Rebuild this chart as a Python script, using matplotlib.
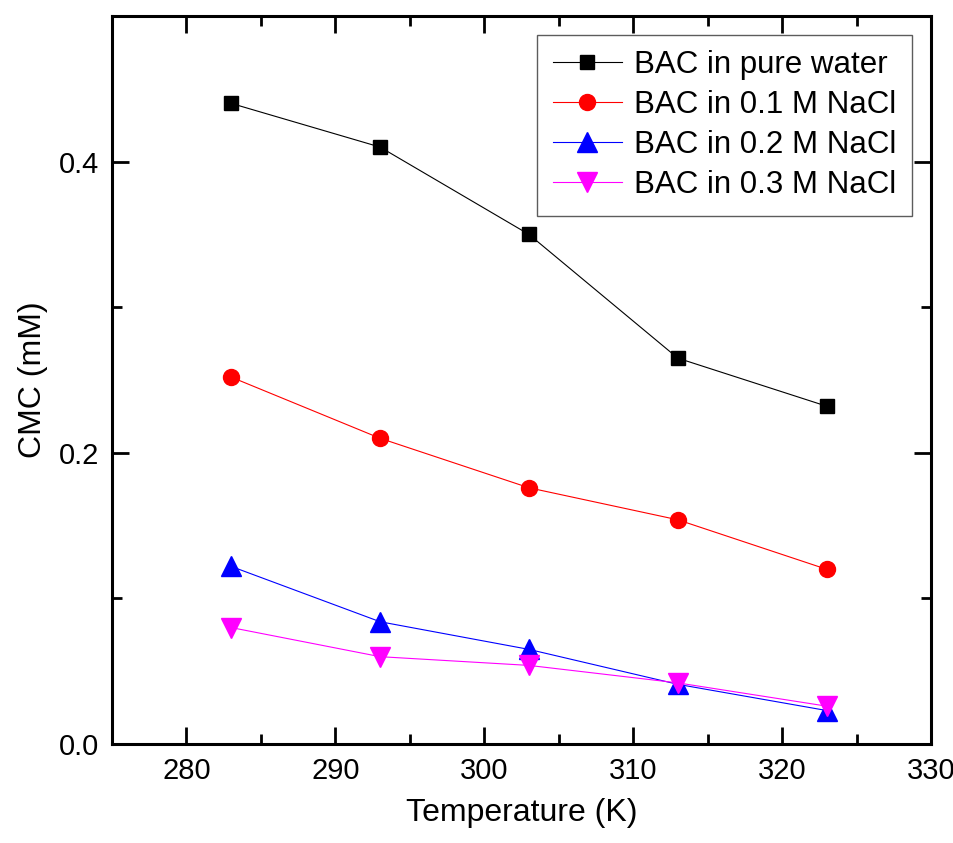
import matplotlib
matplotlib.use('Agg')
import matplotlib.pyplot as plt
from matplotlib.ticker import MultipleLocator

plt.rcParams['font.family'] = ['Liberation Sans', 'DejaVu Sans']

temperature = [283, 293, 303, 313, 323]
cmc_water = [0.440, 0.410, 0.350, 0.265, 0.232]
cmc_nacl_01 = [0.252, 0.210, 0.176, 0.154, 0.120]
cmc_nacl_02 = [0.122, 0.084, 0.065, 0.041, 0.023]
cmc_nacl_03 = [0.080, 0.060, 0.054, 0.042, 0.026]

labels = ['BAC in pure water', 'BAC in 0.1 M NaCl',
          'BAC in 0.2 M NaCl', 'BAC in 0.3 M NaCl']

fig = plt.figure(figsize=(9.54, 8.43), dpi=100)
ax = fig.add_axes([0.1174, 0.1174, 0.8585, 0.8636])

ax.plot(temperature, cmc_water, color='black', marker='s', markersize=10, lw=0.8, label=labels[0])
ax.plot(temperature, cmc_nacl_01, color='red', marker='o', markersize=11.5, lw=0.8, label=labels[1])
ax.plot(temperature, cmc_nacl_02, color='blue', marker='^', markersize=14, lw=0.8, label=labels[2])
ax.plot(temperature, cmc_nacl_03, color='magenta', marker='v', markersize=14, lw=0.8, label=labels[3])

ax.set_xlim(275, 330)
ax.set_ylim(0, 0.5)
ax.xaxis.set_minor_locator(MultipleLocator(5))
ax.yaxis.set_minor_locator(MultipleLocator(0.1))
ax.set_xticks([280, 290, 300, 310, 320, 330])
ax.set_yticks([0.0, 0.2, 0.4])
ax.set_yticklabels(['0.0', '0.2', '0.4'])

ax.tick_params(which='both', direction='in', top=True, right=True, width=2, labelsize=21, pad=9)
ax.tick_params(which='major', length=12)
ax.tick_params(which='minor', length=7)
for s in ax.spines.values():
    s.set_linewidth(2.2)

ax.set_xlabel('Temperature (K)', fontsize=23, labelpad=10)
ax.set_ylabel('CMC (mM)', fontsize=23, labelpad=8)

leg = ax.legend(loc='upper right', fontsize=22.5, frameon=True, fancybox=False,
                edgecolor='#333333', handlelength=2.2, handletextpad=0.4,
                borderpad=0.5, labelspacing=0.32, borderaxespad=0.6)
leg.get_frame().set_linewidth(1.0)

fig.savefig('out.png', dpi=100)
